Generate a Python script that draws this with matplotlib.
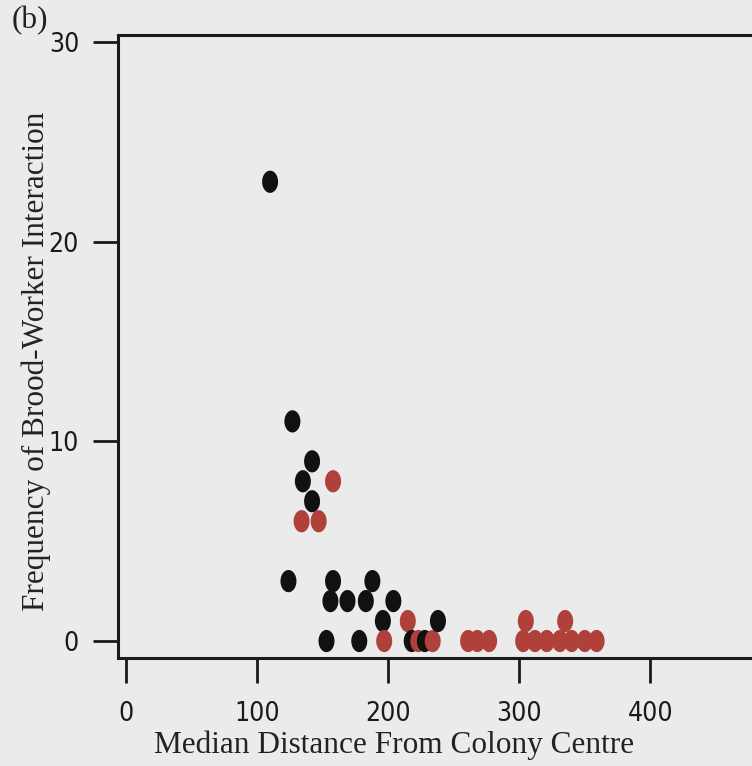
import numpy as np
import matplotlib
matplotlib.use("Agg")
import matplotlib.pyplot as plt
from matplotlib.path import Path
from matplotlib import font_manager

# black points (distance, frequency)
black_x = [110, 127, 142, 135, 142, 124, 158, 188, 156, 169, 183, 204, 196, 238, 153, 178, 218, 228]
black_y = [23, 11, 9, 8, 7, 3, 3, 3, 2, 2, 2, 2, 1, 1, 0, 0, 0, 0]

# red points
red_x = [158, 134, 147, 215, 305, 335, 197, 223, 234, 261, 268, 277, 303, 312, 321, 331, 340, 350, 359]
red_y = [8, 6, 6, 1, 1, 1, 0, 0, 0, 0, 0, 0, 0, 0, 0, 0, 0, 0, 0]

x_ticks = [0, 100, 200, 300, 400]
y_ticks = [0, 10, 20, 30]

BG = "#ebebeb"
BLACK = "#111111"
RED = "#b0403a"

# narrow font for the tick numbers if there is one
names = {f.name for f in font_manager.fontManager.ttflist}
if "Liberation Sans Narrow" in names:
    tick_font = dict(family="Liberation Sans Narrow", size=21)
else:
    tick_font = dict(family="DejaVu Sans", stretch="condensed", size=19)

# upright ellipse marker
t = np.linspace(0, 2 * np.pi, 60)
ellipse = Path(np.column_stack([0.36 * np.cos(t), 0.5 * np.sin(t)]), closed=True)

fig = plt.figure(figsize=(7.52, 7.66), dpi=100, facecolor=BG)
ax = fig.add_axes([118 / 752, 108 / 766, 1 - 118 / 752, (658 - 35) / 766])
ax.set_facecolor(BG)

xs = np.array(black_x + red_x)
ys = np.array(black_y + red_y)
cols = np.array([BLACK] * len(black_x) + [RED] * len(red_x))
order = np.argsort(xs, kind="stable")
ax.scatter(xs[order], ys[order], c=list(cols[order]), marker=ellipse, s=16 ** 2,
           linewidths=0, zorder=3)

ax.set_xlim(-6, 477.5)
ax.set_ylim(-0.85, 30.35)

for s in ["left", "bottom", "top"]:
    ax.spines[s].set_linewidth(2.2)
    ax.spines[s].set_color("#1a1a1a")
ax.spines["right"].set_visible(False)

ax.set_xticks(x_ticks)
ax.set_yticks(y_ticks)
ax.set_xticklabels([str(v) for v in x_ticks], color="#1a1a1a", **tick_font)
ax.set_yticklabels([str(v) for v in y_ticks], color="#1a1a1a", **tick_font)
ax.tick_params(axis="both", length=18, width=2, color="#1a1a1a", direction="out")
ax.tick_params(axis="x", pad=13)
ax.tick_params(axis="y", pad=10)

lab_font = dict(family=["Liberation Serif", "DejaVu Serif"], size=22.5, color="#222222")
fig.text(394 / 752, 1 - 745 / 766, "Median Distance From Colony Centre",
         ha="center", va="center", **lab_font)
fig.text(36 / 752, 1 - 361 / 766, "Frequency of Brood-Worker Interaction",
         ha="center", va="center", rotation=90, **lab_font)
fig.text(30 / 752, 1 - 21 / 766, "(b)", ha="center", va="center", **lab_font)

fig.savefig("out.png", dpi=100, facecolor=BG)
